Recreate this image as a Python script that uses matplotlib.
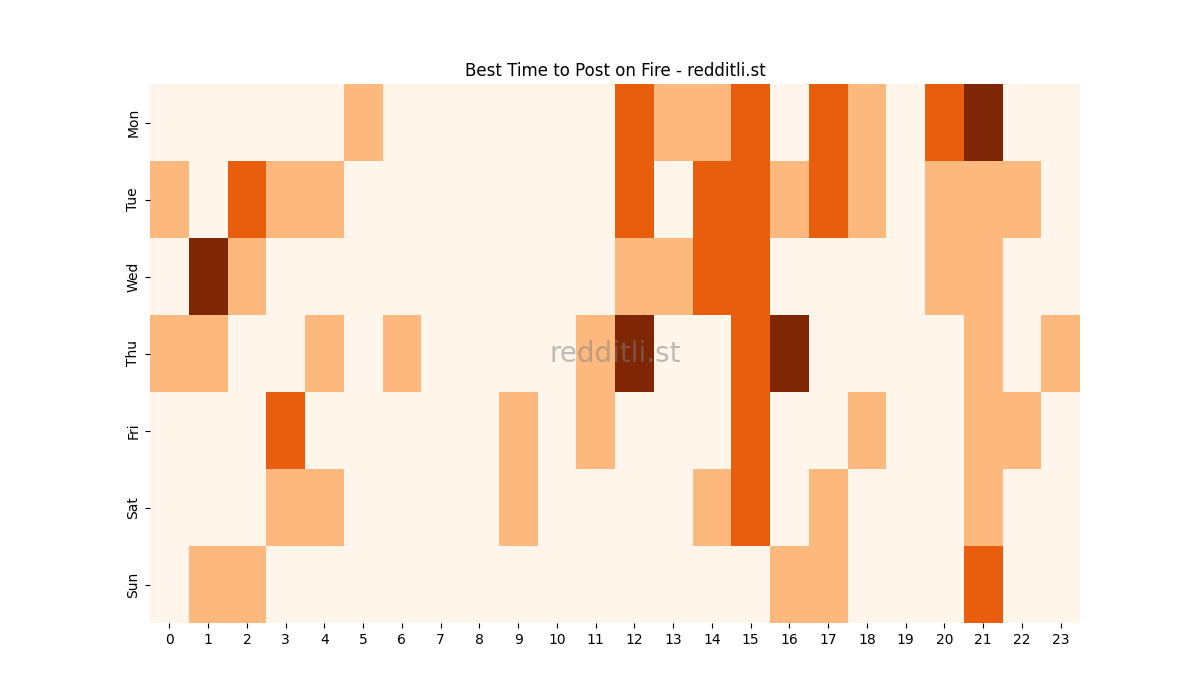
import numpy as np
import matplotlib
matplotlib.use("Agg")
import matplotlib.pyplot as plt
import seaborn as sns

days = ["Mon", "Tue", "Wed", "Thu", "Fri", "Sat", "Sun"]
hours = list(range(24))

# activity level per day / hour (0-3)
mon = [0, 0, 0, 0, 0, 1, 0, 0, 0, 0, 0, 0, 2, 1, 1, 2, 0, 2, 1, 0, 2, 3, 0, 0]
tue = [1, 0, 2, 1, 1, 0, 0, 0, 0, 0, 0, 0, 2, 0, 2, 2, 1, 2, 1, 0, 1, 1, 1, 0]
wed = [0, 3, 1, 0, 0, 0, 0, 0, 0, 0, 0, 0, 1, 1, 2, 2, 0, 0, 0, 0, 1, 1, 0, 0]
thu = [1, 1, 0, 0, 1, 0, 1, 0, 0, 0, 0, 1, 3, 0, 0, 2, 3, 0, 0, 0, 0, 1, 0, 1]
fri = [0, 0, 0, 2, 0, 0, 0, 0, 0, 1, 0, 1, 0, 0, 0, 2, 0, 0, 1, 0, 0, 1, 1, 0]
sat = [0, 0, 0, 1, 1, 0, 0, 0, 0, 1, 0, 0, 0, 0, 1, 2, 0, 1, 0, 0, 0, 1, 0, 0]
sun = [0, 1, 1, 0, 0, 0, 0, 0, 0, 0, 0, 0, 0, 0, 0, 0, 1, 1, 0, 0, 0, 2, 0, 0]

grid = np.array([mon, tue, wed, thu, fri, sat, sun])

fig = plt.figure(figsize=(12, 7), dpi=100)
ax = fig.add_subplot(111)
sns.heatmap(grid, cmap="Oranges", cbar=False, ax=ax,
            xticklabels=hours, yticklabels=days)
ax.set_yticklabels(days, rotation=90, va="center")
ax.set_xticklabels(hours, rotation=0)
ax.set_title("Best Time to Post on Fire - redditli.st")

# watermark
ax.text(0.5, 0.5, "redditli.st", transform=ax.transAxes,
        ha="center", va="center", fontsize=20, color="gray", alpha=0.5)

fig.savefig("out.png", dpi=100)
